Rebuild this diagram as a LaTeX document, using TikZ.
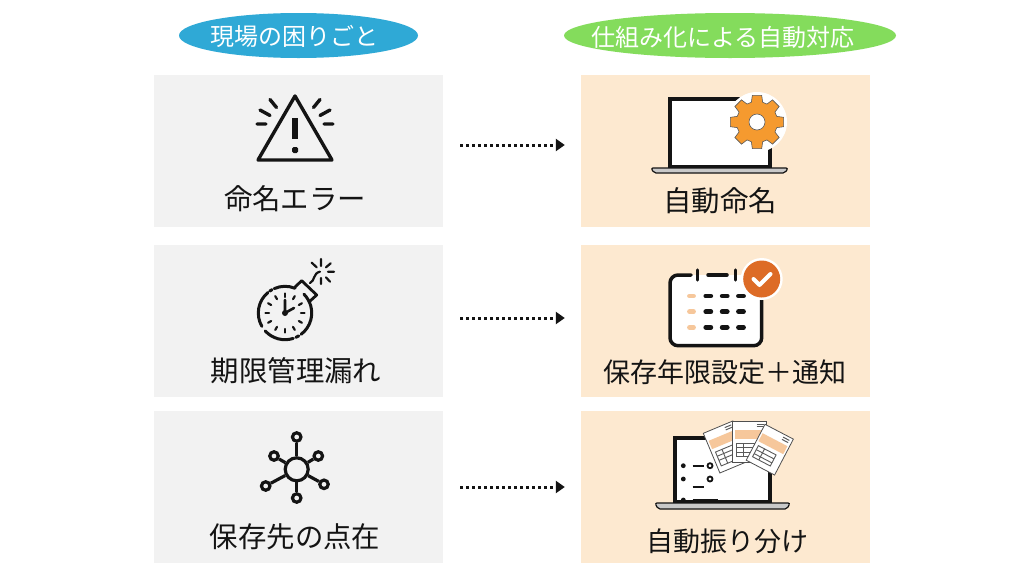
\documentclass[tikz,border=0pt]{standalone}
\usepackage{fontspec}
\usepackage{tikz}
\usetikzlibrary{arrows.meta, shapes.geometric, positioning}
\setmainfont{Noto Sans CJK JP}

\definecolor{ink}{HTML}{141414}
\definecolor{greybox}{HTML}{F2F2F2}
\definecolor{peachbox}{HTML}{FDE9D0}
\definecolor{peachband}{HTML}{F6C79B}
\definecolor{bluepill}{HTML}{2FA9D6}
\definecolor{greenpill}{HTML}{84DC5C}
\definecolor{gearorange}{HTML}{F59A2F}
\definecolor{checkorange}{HTML}{DD6B26}
\definecolor{basegrey}{HTML}{C9C9C9}

\tikzset{
    pill/.style = {ellipse, minimum height=45pt, inner sep=0pt},
    headtext/.style = {text=white, font=\fontsize{24}{24}\selectfont, inner sep=0pt},
    problembox/.style = {fill=greybox, minimum width=289pt, minimum height=152pt, inner sep=0pt},
    fixbox/.style = {fill=peachbox, minimum width=289pt, minimum height=152pt, inner sep=0pt},
    caption/.style = {text=ink, font=\fontsize{27}{27}\selectfont, inner sep=0pt},
    bigcaption/.style = {text=ink, font=\fontsize{28.4}{28.4}\selectfont, inner sep=0pt},
    dotarrow/.style = {-{Triangle[length=9pt,width=12pt]}, ink, line width=3pt,
        dash pattern=on 3pt off 3pt, shorten <=17pt, shorten >=16pt},
    iconline/.style = {draw=ink, line width=3.4pt, line cap=round, line join=round},
    thinline/.style = {draw=ink!70, line width=0.9pt},
    satellite/.style = {circle, draw=ink, line width=3.2pt, minimum size=8.5pt, inner sep=0pt}
}

% one paper sheet: x, y, angle, width, height
\newcommand{\papersheet}[5]{
    \begin{scope}[shift={(#1,#2)}, rotate=#3]
        \draw[fill=white, draw=ink!75, line width=0.8pt] (0,0) rectangle (#4,#5);
        \fill[peachband] (2,9) rectangle (#4-2,18);
        \draw[thinline, line width=1pt] (#4-10,3) -- (#4-3,3) (#4-10,5.5) -- (#4-3,5.5);
        \draw[thinline] (4,22) rectangle (#4-8,#5-6);
        \draw[thinline] (4,26.5) -- (#4-8,26.5) (4,31) -- (#4-8,31);
        \draw[thinline] (11,22) -- (11,#5-6);
    \end{scope}
}

\begin{document}
\begin{tikzpicture}[
            x = 1pt,
            y = -1pt,
            > = stealth
        ]
        \useasboundingbox (0,0) rectangle (1024,576);
        \fill[white] (0,0) rectangle (1024,576);

        \node[pill, fill=bluepill, minimum width=239pt] (problemhead) at (298.5,35.5) {};
        \node[pill, fill=greenpill, minimum width=332pt] (fixhead) at (730,35.5) {};
        \node[headtext] (problemtext) at (294,36) {現場の困りごと};
        \node[headtext] (fixtext) at (723,37) {仕組み化による自動対応};

        \node[problembox] (namebox) at (298.5,151) {};
        \node[problembox, below of=namebox, node distance=170pt] (datebox) {};
        \node[problembox, below of=datebox, node distance=166pt] (placebox) {};
        \node[fixbox, right of=namebox, node distance=427pt] (autobox) {};
        \node[fixbox, right of=datebox, node distance=427pt] (limitbox) {};
        \node[fixbox, right of=placebox, node distance=427pt] (sortbox) {};

        \node[bigcaption] (namelabel) at (295,199) {命名エラー};
        \node[bigcaption] (datelabel) at (296,371) {期限管理漏れ};
        \node[bigcaption] (placelabel) at (295,537) {保存先の点在};
        \node[bigcaption] (autolabel) at (720,201) {自動命名};
        \node[caption] (limitlabel) at (725,372) {保存年限設定＋通知};
        \node[caption] (sortlabel) at (727,541) {自動振り分け};

        \draw[dotarrow] ([yshift=6pt]namebox.east) -- ([yshift=6pt]autobox.west);
        \draw[dotarrow] ([yshift=3pt]datebox.east) -- ([yshift=3pt]limitbox.west);
        \draw[dotarrow] (placebox.east) -- (sortbox.west);

        % warning icon
        \draw[iconline] (295,96) -- (332,160) -- (258,160) -- cycle;
        \draw[ink, line width=6pt] (295,118) -- (295,139);
        \fill[ink, rounded corners=1.5pt] (292,147) rectangle (298,153);
        \draw[iconline] (257,124) -- (266,124) (260,110) -- (270,115.5) (270,99.5) -- (276.5,107.5);
        \draw[iconline] (333,124) -- (324,124) (330,110) -- (320,115.5) (320,99.5) -- (313.5,107.5);

        % laptop with gear
        \draw[fill=white, draw=ink, line width=4pt] (670,99) rectangle (769.5,167);
        \draw[fill=basegrey, draw=ink, line width=1.2pt, rounded corners=2pt] (651,168) -- (788,168) -- (785,173) -- (654,173) -- cycle;
        \fill[white] (757,122) circle (30);
        \draw[fill=gearorange, draw=ink!70, line width=0.6pt, shift={(757,122)}]
            (-16:20.5) \foreach \a in {0,45,...,315} {
                -- (\a-16:20.5) -- (\a-10:27) -- (\a+10:27) -- (\a+16:20.5)
            } -- cycle;
        \draw[fill=white, draw=ink!70, line width=0.6pt] (757,122) circle (8);

        % bomb clock
        \begin{scope}[shift={(285,313)}, line cap=round]
            \draw[ink, line width=3pt] (150:26.7) arc[start angle=150, end angle=230, radius=26.7];
            \draw[ink, line width=3pt] (235:26.7) arc[start angle=235, end angle=241, radius=26.7];
            \draw[ink, line width=3pt] (246:26.7) arc[start angle=246, end angle=292, radius=26.7];
            \draw[ink, line width=3pt] (-45:26.7) arc[start angle=-45, end angle=53, radius=26.7];
            \draw[ink, line width=3pt] (59:26.7) arc[start angle=59, end angle=66, radius=26.7];
            \draw[ink, line width=3pt] (72:26.7) arc[start angle=72, end angle=138, radius=26.7];
            \foreach \a in {0,30,...,330}
                \draw[ink, line width=2.2pt] (\a:16) -- (\a:19.5);
            \draw[ink, line width=2.6pt] (0,-13) -- (0,0) -- (9,-5);
            \fill[ink] (0,0) circle (3);
        \end{scope}
        \draw[iconline, line width=2.8pt] (295,287) -- (301.7,280.7) -- (316.7,295) -- (309.3,301.7);
        \draw[iconline, line width=2.2pt] (310,283) .. controls (315,281) and (313,273) .. (320,271.7);
        \draw[iconline, line width=2.2pt] (321,259) -- (321,266) (311.7,262.7) -- (316.7,267.3)
            (330.7,263.3) -- (326,267.3) (328,271.7) -- (334,271.7)
            (326,277.3) -- (330,281.7) (321,278) -- (321,284);

        % calendar with check
        \draw[fill=white, draw=none, rounded corners=8pt] (670,275) rectangle (761.7,345.7);
        \draw[iconline, line width=3.5pt, rounded corners=8pt]
            (691,275) -- (670,275) -- (670,345.7) -- (761.7,345.7) -- (761.7,290);
        \draw[iconline, line width=3.5pt] (708,275) -- (727,275);
        \draw[iconline] (697.7,270) -- (697.7,280) (735.7,270) -- (735.7,280);
        \foreach \y in {296,311.7,327.3} {
            \draw[peachband, line width=4.8pt, line cap=round] (689.5,\y) -- (693.5,\y);
            \foreach \x in {708.3,724.7,741}
                \draw[ink, line width=4.8pt, line cap=round] (\x-2.5,\y) -- (\x+2.5,\y);
        }
        \fill[white] (761.7,279) circle (21);
        \fill[checkorange] (761.7,279) circle (18.5);
        \draw[white, line width=4pt, line cap=round, line join=round] (753.5,279) -- (759.5,285) -- (770.5,274);

        % network hub
        \node[circle, draw=ink, line width=3.2pt, minimum size=23pt, inner sep=0pt] (hub) at (296.7,469.3) {};
        \node[satellite] (sattop) at (296.7,437) {};
        \node[satellite] (satleft) at (274,456) {};
        \node[satellite] (satright) at (318.3,456) {};
        \node[satellite] (satlower) at (265.7,486) {};
        \node[satellite] (satrear) at (324,484.3) {};
        \node[satellite] (satbottom) at (296.7,498) {};
        \foreach \s in {sattop,satleft,satright,satlower,satrear,satbottom}
            \draw[ink, line width=3.2pt] (hub) -- (\s);

        % laptop with papers
        \draw[fill=white, draw=ink, line width=4pt] (674.7,438) rectangle (769.7,502);
        \draw[fill=basegrey, draw=ink, line width=1.2pt, rounded corners=2pt] (655,503) -- (790,503) -- (787,509) -- (658,509) -- cycle;
        \foreach \y in {465.7,479,500} {
            \fill[ink] (683.3,\y) circle (2.4);
        }
        \draw[ink, line width=2pt] (692.7,465.7) -- (704,465.7) (692.7,487) -- (704,487);
        \draw[ink, line width=2.5pt] (692.7,500.5) -- (718,500.5);
        \draw[ink, line width=1.8pt, fill=white] (710,465.7) circle (2.5) (710,479) circle (2.5);
        \papersheet{703.3}{433.3}{22.7}{32}{43}
        \papersheet{732.7}{421}{0}{34}{41}
        \papersheet{765}{424.3}{-27.6}{32}{40.5}
    \end{tikzpicture}
\end{document}
